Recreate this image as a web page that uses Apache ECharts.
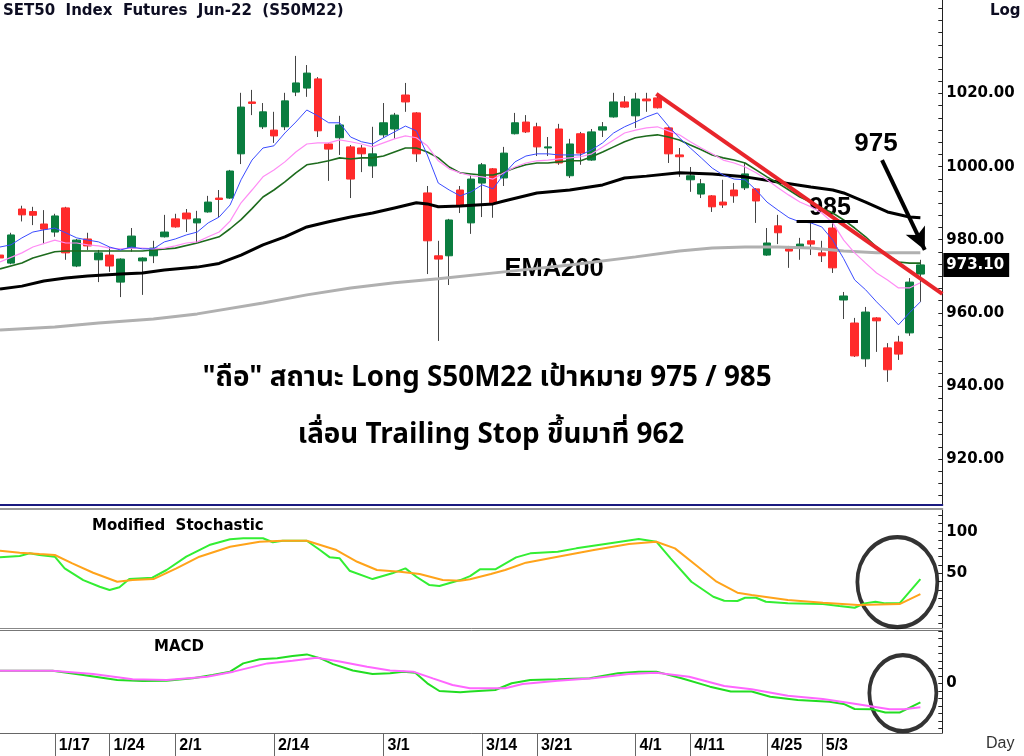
<!DOCTYPE html>
<html>
<head>
<meta charset="utf-8">
<script src="https://cdn.jsdelivr.net/npm/echarts@6.0.0/dist/echarts.min.js"></script>
<style>
  html, body { margin: 0; padding: 0; background: #fff; }
  #main { width: 1024px; height: 756px; }
</style>
</head>
<body>
<div id="main"></div>
<script>
// trading days shown on the chart (SET holidays skipped)
const dates = [
  '1/10','1/11','1/12','1/13','1/14','1/17','1/18','1/19','1/20','1/21','1/24','1/25','1/26','1/27','1/28','1/31',
  '2/1','2/2','2/3','2/4','2/7','2/8','2/9','2/10','2/11','2/14','2/15','2/17','2/18','2/21','2/22','2/23','2/24','2/25','2/28',
  '3/1','3/2','3/3','3/4','3/7','3/8','3/9','3/10','3/11','3/14','3/15','3/16','3/17','3/18','3/21','3/22','3/23','3/24','3/25','3/28','3/29','3/30','3/31',
  '4/1','4/4','4/5','4/7','4/8','4/11','4/12','4/18','4/19','4/20','4/21','4/22','4/25','4/26','4/27','4/28','4/29',
  '5/3','5/5','5/6','5/9','5/10','5/11','5/12','5/13','5/17','5/18'
];
const dateLabels = ['1/17','1/24','2/1','2/14','3/1','3/14','3/21','4/1','4/11','4/25','5/3'];

const opens = [975.8,973.6,988.4,987.7,984.3,982.1,988.7,972.8,980.2,974.5,975.8,968.4,977.7,974.2,975.6,980.8,
  985.7,987.3,984.6,987.6,991.4,991.4,1003.5,1017.7,1010.9,1010.0,1010.9,1020.4,1021.5,1024.0,1006.2,1007.9,1005.4,1005.1,1000.2,
  1008.7,1010.3,1019.6,1014.7,992.8,975.6,975.6,993.6,984.6,995.5,999.4,996.9,1009.0,1012.2,1010.9,1005.1,1010.3,997.5,1009.0,1001.8,1010.0,1013.6,1017.7,
  1013.9,1018.5,1018.8,1010.6,1003.2,996.4,992.5,992.0,990.3,993.6,994.2,993.9,975.8,983.8,977.5,978.0,979.7,
  976.4,983.2,963.5,957.2,947.4,958.6,950.4,952.0,954.5,970.6];
const closes = [975.0,981.3,986.8,986.7,982.9,986.5,976.4,979.9,978.3,976.4,972.8,974.7,981.0,975.0,977.7,982.1,
  983.5,985.7,985.7,990.3,991.0,998.8,1016.3,1017.3,1015.0,1008.4,1018.0,1022.9,1025.6,1009.8,1004.8,1011.4,996.6,1003.5,1003.5,
  1012.0,1014.1,1017.7,1003.5,979.7,974.7,985.4,989.2,996.6,1000.5,990.1,1003.7,1012.0,1009.5,1005.4,1005.4,1001.0,1006.2,1003.7,1009.5,1010.9,1017.7,1016.3,
  1018.5,1018.0,1016.1,1003.5,1002.7,997.5,995.3,989.0,989.5,992.0,998.0,990.6,979.1,981.9,976.9,978.8,978.8,
  975.6,972.3,964.6,948.2,960.2,957.8,944.4,948.7,968.4,973.1];
const lows = [974.5,973.3,985.0,984.0,978.8,980.8,974.5,972.5,977.2,968.4,971.2,964.3,976.7,964.9,973.6,980.6,
  983.3,982.1,979.1,987.4,986.2,991.2,1000.7,1014.1,1010.3,1006.5,1010.0,1019.3,1019.1,1008.1,996.1,1003.2,991.4,998.5,996.9,
  1007.9,1007.6,1015.0,1001.3,970.6,952.3,967.6,987.3,981.6,986.2,986.0,994.7,1008.8,1009.2,1002.9,1002.9,1000.5,996.9,1000.5,1001.6,1008.1,1013.4,1016.1,
  1010.6,1015.0,1015.9,1001.0,997.2,993.1,991.4,987.6,988.7,990.1,993.6,984.6,975.6,978.8,972.3,974.5,975.8,
  973.9,970.9,958.3,947.9,945.2,949.3,941.1,947.1,953.7,963.0];
const highs = [976.7,981.9,989.3,989.0,988.1,987.1,989.0,980.2,981.9,977.2,978.0,974.9,983.2,975.2,979.7,986.8,
  987.1,988.4,987.9,992.0,993.6,999.1,1020.2,1021.0,1017.4,1015.0,1020.2,1030.3,1027.8,1024.5,1006.4,1013.9,1005.9,1005.9,1010.9,
  1017.4,1014.7,1022.9,1014.9,994.7,979.7,985.7,994.7,997.5,1001.0,999.6,1005.4,1014.7,1014.1,1012.0,1008.1,1011.7,1007.6,1009.5,1010.3,1012.2,1020.2,1019.3,
  1020.2,1020.2,1019.6,1010.9,1005.1,999.9,996.6,992.2,996.4,995.5,1001.0,994.1,983.2,986.8,978.3,980.5,984.9,
  979.7,984.6,965.7,958.6,961.6,958.8,951.7,953.7,969.5,974.5];

// moving averages: [day index, price]
const emaBlue = [[0,978.0],[1,978.6],[2,980.5],[3,982.1],[4,982.7],[5,983.2],[6,981.9],[7,980.5],[8,979.9],[9,979.4],[10,978.0],
  [11,977.2],[12,978.0],[13,977.5],[14,977.5],[15,979.4],[16,980.2],[17,981.3],[18,982.1],[19,984.6],[20,986.2],[21,989.5],
  [22,996.4],[23,1001.8],[24,1005.1],[25,1005.7],[26,1009.2],[27,1012.2],[28,1015.5],[29,1013.9],[30,1012.0],[31,1012.0],
  [32,1008.1],[33,1006.8],[34,1006.2],[35,1007.9],[36,1009.5],[37,1011.1],[38,1009.8],[39,1003.2],[40,995.5],[41,993.6],
  [42,992.0],[43,993.1],[44,995.0],[45,993.9],[46,998.0],[47,1001.3],[48,1002.9],[49,1003.5],[50,1003.5],[51,1003.2],
  [52,1003.2],[53,1003.2],[54,1004.6],[55,1006.5],[56,1009.2],[57,1010.9],[58,1012.2],[59,1013.6],[60,1014.7],[61,1011.1],
  [62,1007.9],[63,1005.1],[64,1002.4],[65,999.6],[66,997.7],[67,996.6],[68,996.4],[69,993.6],[70,990.3],[71,988.1],
  [72,986.0],[73,984.9],[74,984.6],[75,983.5],[76,979.9],[77,974.8],[78,969.0],[79,966.3],[80,963.0],[81,960.0],
  [82,956.7],[83,960.0],[84,963.0]];
const emaPink = [[0,973.9],[2,976.4],[3,978.0],[5,979.9],[6,979.1],[7,979.1],[8,978.6],[9,978.3],[10,977.7],[11,977.5],
  [12,977.7],[13,977.7],[14,977.5],[15,977.7],[16,978.3],[17,979.1],[18,979.4],[19,980.8],[20,982.1],[21,985.1],[22,990.1],
  [23,993.6],[24,997.2],[25,999.1],[26,1001.3],[27,1004.0],[28,1006.2],[29,1006.5],[30,1006.5],[31,1007.3],[32,1006.8],
  [33,1006.2],[34,1005.4],[35,1006.5],[36,1007.6],[37,1008.4],[38,1007.9],[39,1005.7],[40,1001.6],[41,999.4],[42,998.3],
  [43,997.5],[44,997.2],[45,996.6],[46,998.3],[47,999.9],[48,1001.0],[49,1001.6],[50,1001.8],[51,1002.1],[52,1002.4],
  [53,1002.7],[54,1003.5],[55,1005.4],[56,1007.3],[57,1009.2],[58,1010.0],[59,1010.6],[60,1010.9],[61,1009.8],[62,1008.7],
  [63,1006.8],[64,1005.1],[65,1003.5],[66,1001.8],[67,1001.0],[68,999.9],[69,998.3],[70,996.4],[71,994.2],[72,992.2],
  [73,990.3],[74,989.0],[75,987.3],[76,984.6],[77,979.9],[78,976.4],[79,973.6],[80,970.9],[81,969.0],[82,966.8],
  [83,966.8],[84,968.2]];
const emaGreen = [[0,972.0],[2,973.6],[3,975.0],[5,976.7],[6,976.9],[13,976.9],[14,977.2],[16,977.7],[18,979.1],[20,980.8],
  [21,983.0],[22,985.5],[23,988.5],[24,991.7],[25,993.6],[26,995.8],[27,998.3],[28,1000.5],[29,1001.0],[30,1001.6],
  [31,1002.4],[32,1002.1],[33,1002.4],[34,1002.4],[35,1002.9],[36,1004.0],[37,1005.1],[38,1005.1],[39,1004.0],[40,1002.4],
  [41,999.9],[42,998.3],[43,998.0],[44,997.7],[45,997.7],[46,998.5],[47,999.6],[48,1000.5],[49,1001.0],[50,1001.0],
  [51,1001.3],[52,1001.6],[53,1001.6],[54,1002.7],[55,1004.0],[56,1005.4],[57,1006.8],[58,1007.9],[59,1008.4],[60,1008.7],
  [61,1008.1],[62,1007.3],[63,1005.9],[64,1004.6],[65,1003.2],[66,1002.4],[67,1001.8],[68,1001.0],[69,999.1],[70,997.2],
  [71,995.5],[72,993.6],[73,991.7],[74,990.3],[75,988.7],[76,987.3],[77,985.4],[78,983.2],[79,980.8],[80,978.0],
  [81,975.8],[82,973.9],[83,973.6],[84,973.6]];
const emaBlack = [[0,966.5],[2,967.3],[4,968.7],[6,969.5],[8,970.1],[11,970.6],[13,970.9],[15,971.7],[18,972.5],[20,973.5],
  [22,975.8],[24,978.6],[26,980.8],[28,983.5],[30,984.9],[32,986.2],[34,987.3],[36,988.7],[38,990.1],[39,989.8],[40,989.0],
  [42,989.2],[45,989.8],[46,990.6],[49,992.8],[52,993.6],[55,995.0],[57,996.9],[59,997.4],[62,998.3],[65,998.0],[68,997.2],
  [71,995.8],[74,994.4],[76,993.6],[77,992.8],[79,990.3],[81,987.6],[83,986.2],[84,986.0]];
const ema200 = [[0,955.3],[5,956.1],[9,957.2],[14,958.3],[18,959.7],[24,962.7],[28,964.9],[32,966.8],[36,968.2],[40,969.3],
  [46,971.2],[52,973.1],[58,975.3],[62,976.9],[65,977.7],[68,978.0],[71,978.0],[74,977.7],[77,976.9],[80,976.4],[84,976.4]];

// drawn annotations
const trendLine = [[59.9,1019.9],[86,965.2]];
const target985 = [[72.7,985],[78.3,985]];
const arrow975 = [[80.5,1001.8],[84.4,977.2]];
const lastPrice = 973.1;

// Modified Stochastic
const stochK = [[0,69.2],[1.8,70.8],[2.7,74.0],[3.6,72.0],[5.0,70.0],[5.9,56.0],[7.6,41.9],[9.1,33.9],[10.0,29.9],[10.9,33.2],
  [11.8,43.1],[13.9,44.7],[15.2,54.0],[17.0,70.0],[19.1,84.0],[21.0,90.9],[22.2,92.1],[24.0,92.1],[24.9,87.3],[25.8,89.2],
  [28.0,89.2],[29.2,78.0],[30.1,69.2],[31.0,68.0],[31.9,53.1],[34.0,43.1],[35.8,50.0],[37.0,56.0],[38.0,45.9],[39.2,35.9],
  [40.1,34.7],[42.0,41.9],[42.9,46.7],[43.8,54.8],[45.2,54.8],[47.1,69.2],[48.4,74.0],[50.9,76.0],[52.6,80.0],[55.7,86.1],
  [58.3,91.2],[59.9,88.0],[61.2,68.0],[63.1,39.9],[65.1,21.9],[66.1,17.1],[67.3,16.7],[68.0,20.7],[69.0,20.7],[69.9,15.9],
  [71.9,13.9],[75.1,13.1],[76.6,10.7],[78.0,8.6],[78.9,13.9],[79.9,15.9],[80.8,13.9],[82.1,13.9],[84,43.1]];
const stochD = [[0,77.2],[1.8,74.8],[3.6,73.2],[5.0,72.0],[6.6,62.0],[8.5,50.7],[10.7,39.9],[12.1,41.9],[14.0,43.1],[16.1,56.0],
  [18.2,70.0],[21.0,82.0],[23.7,88.0],[25.8,89.2],[28.0,89.2],[30.7,78.0],[32.6,63.9],[34.4,54.0],[36.5,51.9],[38.3,49.2],
  [40.4,41.9],[42.0,41.1],[42.9,42.8],[44.8,49.2],[46.1,54.0],[48.0,62.8],[50.9,70.0],[54.2,78.0],[57.4,85.2],[59.9,88.0],
  [61.6,80.0],[63.5,60.0],[65.4,39.9],[67.3,26.7],[68.6,23.9],[71.9,17.9],[75.1,14.7],[78.3,12.0],[82.1,13.1],[83.0,18.7],
  [84,25.1]];

// MACD
const macdLine = [[0,3.36],[4.8,3.36],[7.6,2.2],[10.7,0.88],[13.0,0.61],[15.2,0.7],[17.6,1.33],[19.4,2.2],[21.0,3.1],[22.2,5.3],
  [23.7,6.4],[25.3,6.7],[26.7,7.3],[28.0,7.7],[29.2,6.7],[30.4,5.1],[32.2,3.4],[34.0,2.5],[35.6,2.7],[36.8,3.1],[37.9,2.8],
  [39.0,0],[40.1,-2.05],[42.0,-2.4],[42.9,-2.2],[45.2,-1.8],[46.7,0],[48.4,0.88],[50.9,1.07],[53.8,1.33],[56.4,2.67],
  [58.3,3.1],[59.9,3.1],[62.2,1.33],[64.8,-0.9],[66.7,-2.2],[68.6,-2.2],[70.3,-3.6],[72.8,-4.45],[75.7,-4.9],[77.0,-5.5],
  [78.0,-6.85],[79.6,-6.9],[80.8,-7.8],[82.1,-7.8],[84.0,-5.1]];
const macdSignal = [[0,3.36],[4.8,3.36],[8.5,2.5],[12.1,1.07],[15.2,0.88],[18.9,1.76],[21.3,3.1],[24.4,5.3],[26.7,6.0],
  [28.9,6.8],[31.0,5.8],[33.5,4.4],[35.6,3.4],[37.7,3.1],[39.5,1.3],[41.3,-0.45],[42.9,-1.3],[46.1,-1.3],[47.7,-0.2],
  [50.9,0.7],[54.1,1.33],[57.4,2.5],[59.9,2.8],[62.9,1.76],[66.1,-0.7],[68.6,-1.6],[71.9,-3.3],[75.1,-4.2],[77.7,-5.3],
  [81.2,-6.9],[82.5,-6.9],[84.0,-6.4]];

const stochCircle = [[81.9, 39.5]];
const macdCircle = [[82.4, -2.6]];

const priceLabels = [920, 940, 960, 980, 1000, 1020];

// axis tick lists (not data)
function steps(from, to, step) {
  const out = [];
  for (let v = from; v <= to + 1e-9; v += step) out.push(+v.toFixed(3));
  return out;
}

const candleAxis = dates.concat(['', '']);
const WIDE = '"DejaVu Sans", Verdana, sans-serif';
const ARIAL = '"Liberation Sans", Arial, sans-serif';
const THAI = '"Noto Sans Thai", "Noto Sans", "DejaVu Sans", "Liberation Sans", sans-serif';

function initChart() {
  let chart = echarts.init(document.getElementById('main'));

  let wicks = dates.map((d, i) => [opens[i], closes[i], lows[i], highs[i]]);
  let bodies = dates.map((d, i) => [opens[i], closes[i],
    Math.min(opens[i], closes[i]), Math.max(opens[i], closes[i])]);

  let gridPos = {left: 0, right: 81.7, outerBoundsMode: 'none', containLabel: false};
  let valueX = {type: 'value', min: 0, max: 86, show: false, axisLine: {onZero: false}};
  let rightAxis = {
    position: 'right',
    axisLine: {show: true, onZero: false, lineStyle: {color: '#222', width: 1}},
    axisTick: {show: true, inside: true, length: 4, lineStyle: {color: '#222'}},
    axisLabel: {color: '#000', fontWeight: 'bold', fontSize: 15, margin: 4, fontFamily: WIDE},
    splitLine: {show: false}
  };
  let edgeX = (grid, pos, color, width) => ({
    type: 'value', gridIndex: grid, min: 0, max: 86, position: pos,
    axisLine: {show: true, onZero: false, lineStyle: {color: color, width: width}},
    axisTick: {show: false}, axisLabel: {show: false}, splitLine: {show: false}
  });

  let option = {
    animation: false,
    backgroundColor: '#fff',
    grid: [
      Object.assign({top: 0, height: 505}, gridPos),
      Object.assign({top: 509, height: 119}, gridPos),
      Object.assign({top: 630, height: 103}, gridPos)
    ],
    xAxis: [
      {type: 'category', gridIndex: 0, data: candleAxis, position: 'bottom', boundaryGap: false,
        axisLine: {onZero: false, lineStyle: {color: '#1a1a80', width: 2}},
        axisTick: {show: false}, axisLabel: {show: false}},
      Object.assign({gridIndex: 0}, valueX),
      edgeX(1, 'top', '#999', 2),
      edgeX(1, 'bottom', '#888', 1),
      edgeX(2, 'top', '#777', 1),
      {type: 'category', gridIndex: 2, data: candleAxis, position: 'bottom', boundaryGap: false,
        axisLine: {onZero: false, lineStyle: {color: '#666', width: 1}},
        axisTick: {show: true, length: 23, lineStyle: {color: '#666'},
          interval: (i, v) => dateLabels.includes(v)},
        axisLabel: {show: true, interval: (i, v) => dateLabels.includes(v), align: 'left',
          padding: [0, 0, 0, 4], margin: 5, color: '#000', fontWeight: 'bold', fontSize: 16,
          fontFamily: ARIAL}}
    ],
    yAxis: [
      Object.assign({}, rightAxis, {type: 'value', gridIndex: 0, min: 907.4, max: 1045.6,
        axisTick: Object.assign({}, rightAxis.axisTick, {customValues: steps(910, 1045, 20 / 6)}),
        axisLabel: Object.assign({}, rightAxis.axisLabel, {customValues: priceLabels,
          formatter: v => v.toFixed(2)})}),
      Object.assign({}, rightAxis, {type: 'value', gridIndex: 1, min: -15.7, max: 127.3,
        axisTick: Object.assign({}, rightAxis.axisTick, {customValues: steps(-10, 120, 10)}),
        axisLabel: Object.assign({}, rightAxis.axisLabel, {customValues: [50, 100]})}),
      Object.assign({}, rightAxis, {type: 'value', gridIndex: 2, min: -13.25, max: 14.2,
        axisTick: Object.assign({}, rightAxis.axisTick, {customValues: steps(-12, 14, 2)}),
        axisLabel: Object.assign({}, rightAxis.axisLabel, {customValues: [0]})})
    ],
    series: [
      {type: 'candlestick', name: 'wick', xAxisIndex: 0, yAxisIndex: 0, data: wicks, barWidth: 1,
        itemStyle: {color: '#444', color0: '#444', borderColor: '#444', borderColor0: '#444', borderWidth: 1}},
      {type: 'candlestick', name: 'body', xAxisIndex: 0, yAxisIndex: 0, data: bodies, barWidth: 8,
        itemStyle: {color: '#0a7d3f', color0: '#ff2b2b', borderColor: '#0a7d3f', borderColor0: '#ff2b2b', borderWidth: 1}},
      {type: 'line', name: 'EMA200', xAxisIndex: 1, yAxisIndex: 0, data: ema200, symbol: 'none',
        lineStyle: {color: '#b0b0b0', width: 3}},
      {type: 'line', name: 'EMA75', xAxisIndex: 1, yAxisIndex: 0, data: emaBlack, symbol: 'none',
        lineStyle: {color: '#000', width: 3}},
      {type: 'line', name: 'EMA25', xAxisIndex: 1, yAxisIndex: 0, data: emaGreen, symbol: 'none',
        lineStyle: {color: '#1d6b1d', width: 1.6}},
      {type: 'line', name: 'EMA10', xAxisIndex: 1, yAxisIndex: 0, data: emaPink, symbol: 'none',
        lineStyle: {color: '#ff8cf5', width: 1.2}},
      {type: 'line', name: 'EMA5', xAxisIndex: 1, yAxisIndex: 0, data: emaBlue, symbol: 'none',
        lineStyle: {color: '#3a4bff', width: 1},
        markLine: {silent: true, symbol: 'none', data: [{yAxis: lastPrice}],
          lineStyle: {color: 'rgba(0,0,0,0)', width: 1, type: 'solid'},
          label: {show: true, position: 'end', distance: 1, formatter: '973.10', color: '#fff',
            backgroundColor: '#000', padding: [5, 5, 4, 3], fontWeight: 'bold', fontSize: 15,
            fontFamily: WIDE}}},
      {type: 'line', name: 'trend', xAxisIndex: 1, yAxisIndex: 0, data: trendLine, symbol: 'none',
        lineStyle: {color: '#e8252b', width: 4}},
      {type: 'line', name: '985', xAxisIndex: 1, yAxisIndex: 0, data: target985, symbol: 'none',
        lineStyle: {color: '#000', width: 3},
        markLine: {silent: true, symbol: ['none', 'arrow'], symbolSize: [16, 22],
          lineStyle: {color: '#000', width: 4, type: 'solid'}, label: {show: false},
          data: [[{coord: arrow975[0]}, {coord: arrow975[1]}]]}},
      {type: 'line', name: 'stochK', xAxisIndex: 2, yAxisIndex: 1, data: stochK, symbol: 'none',
        lineStyle: {color: '#33ee33', width: 2}},
      {type: 'line', name: 'stochD', xAxisIndex: 2, yAxisIndex: 1, data: stochD, symbol: 'none',
        lineStyle: {color: '#ffa31a', width: 2}},
      {type: 'scatter', xAxisIndex: 2, yAxisIndex: 1, data: stochCircle, symbol: 'circle',
        symbolSize: [80, 90], silent: true,
        itemStyle: {color: 'rgba(0,0,0,0)', borderColor: '#000', borderWidth: 4}},
      {type: 'line', name: 'macd', xAxisIndex: 4, yAxisIndex: 2, data: macdLine, symbol: 'none',
        lineStyle: {color: '#22dd22', width: 2}},
      {type: 'line', name: 'signal', xAxisIndex: 4, yAxisIndex: 2, data: macdSignal, symbol: 'none',
        lineStyle: {color: '#ff66ff', width: 2}},
      {type: 'scatter', xAxisIndex: 4, yAxisIndex: 2, data: macdCircle, symbol: 'circle',
        symbolSize: [67, 76], silent: true,
        itemStyle: {color: 'rgba(0,0,0,0)', borderColor: '#000', borderWidth: 4}}
    ],
    graphic: [
      {type: 'text', left: 3, top: 4, style: {text: 'SET50  Index  Futures  Jun-22  (S50M22)',
        font: 'bold 15px ' + WIDE, fill: '#0d0d22'}},
      {type: 'text', left: 990, top: 4, style: {text: 'Log', font: 'bold 15px ' + WIDE, fill: '#0d0d22'}},
      {type: 'text', x: 554, y: 269, style: {text: 'EMA200', font: 'bold 25.5px ' + ARIAL,
        fill: '#000', align: 'center', verticalAlign: 'middle'}},
      {type: 'text', x: 487, y: 380, style: {text: '"ถือ" สถานะ Long S50M22 เป้าหมาย 975 / 985',
        font: 'bold 27.8px ' + THAI, fill: '#000', align: 'center', verticalAlign: 'middle'}},
      {type: 'text', x: 491, y: 437, style: {text: 'เลื่อน Trailing Stop ขึ้นมาที่ 962',
        font: 'bold 27.8px ' + THAI, fill: '#000', align: 'center', verticalAlign: 'middle'}},
      {type: 'text', x: 830, y: 208, style: {text: '985', font: 'bold 25px ' + ARIAL,
        fill: '#000', align: 'center', verticalAlign: 'middle'}},
      {type: 'text', x: 876, y: 144, style: {text: '975', font: 'bold 26px ' + ARIAL,
        fill: '#000', align: 'center', verticalAlign: 'middle'}},
      {type: 'text', left: 92, top: 519, style: {text: 'Modified  Stochastic', font: 'bold 15px ' + WIDE, fill: '#000'}},
      {type: 'text', left: 154, top: 640, style: {text: 'MACD', font: 'bold 15px ' + WIDE, fill: '#000'}},
      {type: 'text', left: 986, top: 736, style: {text: 'Day', font: '16px ' + ARIAL, fill: '#333'}}
    ]
  };

  option && chart.setOption(option);
}

initChart();
</script>
</body>
</html>
